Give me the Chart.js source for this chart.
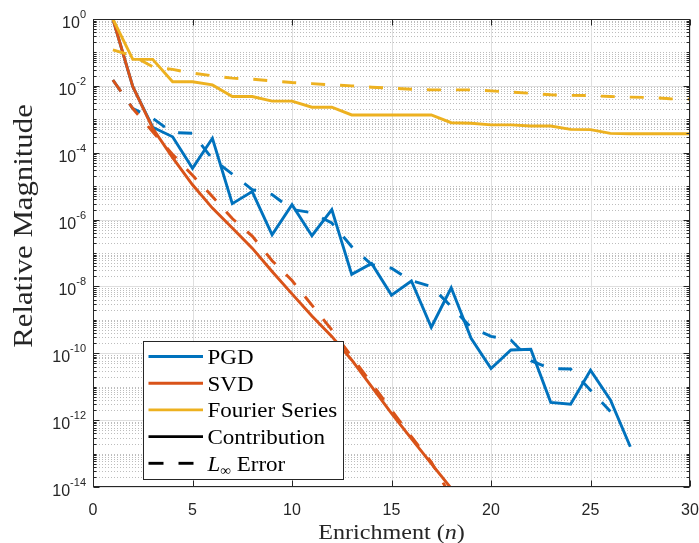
<!DOCTYPE html>
<html>
<head>
<meta charset="utf-8">
<script src="https://cdn.jsdelivr.net/npm/chart.js@4.4.0/dist/chart.umd.min.js"></script>
<style>
  html, body { margin: 0; padding: 0; background: #fff; }
  #wrap { width: 699px; height: 543px; }
</style>
</head>
<body>
<div id="wrap"><canvas id="chart" width="699" height="543"></canvas></div>
<script>
// enrichment index n
const enrichment = [1, 2, 3, 4, 5, 6, 7, 8, 9, 10, 11, 12, 13, 14, 15,
                    16, 17, 18, 19, 20, 21, 22, 23, 24, 25, 26, 27, 28, 29, 30];

// PGD: relative contribution of each mode and L-infinity error
const pgdContribution = [1, 9.5e-3, 5.8e-4, 3.0e-4, 3.4e-5, 2.7e-4, 3.0e-6, 6.9e-6, 3.5e-7, 2.8e-6,
                         3.3e-7, 2.0e-6, 2.3e-8, 4.9e-8, 5.5e-9, 1.45e-8, 6.0e-10, 9.1e-9, 2.8e-10, 3.5e-11,
                         1.26e-10, 1.32e-10, 3.4e-12, 3.0e-12, 3.1e-11, 4.0e-12, 1.6e-13];
const pgdError = [1.5e-2, 2.1e-3, 1.07e-3, 4.0e-4, 3.8e-4, 6.5e-5, 2.3e-5, 7.9e-6, 5.6e-6, 2.0e-6,
                  1.6e-6, 7.9e-7, 1.55e-7, 4.5e-8, 3.5e-8, 1.48e-8, 1.0e-8, 2.5e-9, 5.9e-10, 3.2e-10,
                  2.5e-10, 6.0e-11, 3.5e-11, 3.4e-11, 7.9e-12, 1.8e-12];

// SVD
const svdContribution = [1, 9.5e-3, 5.4e-4, 7.1e-5, 1.1e-5, 2.2e-6, 5.6e-7, 1.4e-7, 2.8e-8, 6.0e-9,
                         1.3e-9, 3.2e-10, 6.3e-11, 1.0e-11, 1.6e-12, 2.8e-13, 5.0e-14, 9.1e-15];
const svdError = [1.5e-2, 2.1e-3, 4.2e-4, 8.9e-5, 2.1e-5, 4.9e-6, 1.07e-6, 3.2e-7, 5.9e-8, 1.5e-8,
                  2.75e-9, 5.0e-10, 7.9e-11, 1.26e-11, 2.0e-12, 3.2e-13, 5.6e-14, 5.0e-15];

// Fourier series
const fourierContribution = [1, 0.062, 0.062, 0.0133, 0.0133, 0.0107, 0.0048, 0.0048, 0.0035, 0.0035,
                             0.0023, 0.0023, 0.00135, 0.00135, 0.00135, 0.00135, 0.00135, 0.00079, 0.00076, 0.00068,
                             0.00068, 0.00063, 0.00063, 0.0005, 0.00049, 0.00038, 0.00037, 0.00037, 0.00037, 0.00037];
const fourierError = [0.12, 0.079, 0.037, 0.031, 0.024, 0.02, 0.017, 0.0158, 0.0141, 0.0126,
                      0.0117, 0.0107, 0.01, 0.0091, 0.0085, 0.0079, 0.0076, 0.0076, 0.0076, 0.0071,
                      0.0065, 0.006, 0.0054, 0.0052, 0.0051, 0.0048, 0.0046, 0.0045, 0.0041, 0.004];

const xTicks = [0, 5, 10, 15, 20, 25, 30];
const yLabelExponents = [0, -2, -4, -6, -8, -10, -12, -14];

const blue = '#0072BD', orange = '#D95319', yellow = '#EDB120';
const dash = [14, 15];
const lineWidth = 2.9;
const serif = '"Liberation Serif", "Times New Roman", serif';
const sans = '"Liberation Sans", Arial, sans-serif';

const legendEntries = [
  { runs: [['PGD']], color: blue, dashed: false },
  { runs: [['SVD']], color: orange, dashed: false },
  { runs: [['Fourier Series']], color: yellow, dashed: false },
  { runs: [['Contribution']], color: '#000', dashed: false },
  { runs: [['L', true], ['\u221E', false, 14, 4], [' Error']], color: '#000', dashed: true }
];

const toPoints = vals => vals.map((v, i) => ({ x: enrichment[i], y: v }));

function series(data, color, dashed, order) {
  return {
    data: toPoints(data),
    borderColor: color,
    borderWidth: lineWidth,
    borderDash: dashed ? dash : [],
    borderCapStyle: 'butt',
    pointRadius: 0,
    tension: 0,
    clip: 0,
    order
  };
}

// draw a string made of runs [text, italic, size, dy], stretched horizontally
function drawRuns(ctx, runs, x, y, size, align, stretch) {
  const parts = runs.map(r => {
    const font = (r[1] ? 'italic ' : '') + (r[2] || size) + 'px ' + serif;
    ctx.font = font;
    return { text: r[0], font, dy: r[3] || 0, w: ctx.measureText(r[0]).width };
  });
  const total = parts.reduce((s, p) => s + p.w, 0);
  const x0 = align === 'center' ? x - total * stretch / 2 : x;
  ctx.save();
  ctx.translate(x0, y);
  ctx.scale(stretch, 1);
  ctx.textAlign = 'left';
  ctx.textBaseline = 'alphabetic';
  let cx = 0;
  parts.forEach(p => {
    ctx.font = p.font;
    ctx.fillText(p.text, cx, p.dy);
    cx += p.w;
  });
  ctx.restore();
}

const axesFrame = {
  id: 'axesFrame',
  beforeDatasetsDraw(chart) {
    const { ctx, chartArea: a, scales: { x, y } } = chart;
    ctx.save();
    ctx.lineWidth = 1;
    // minor grid (dotted)
    ctx.strokeStyle = 'rgba(38,38,38,0.3)';
    ctx.setLineDash([1, 2]);
    for (let k = -14; k < 0; k++) {
      for (let m = 1; m <= 9; m++) {
        if (m === 1 && k % 2 === 0) continue;
        const py = Math.round(y.getPixelForValue(m * Math.pow(10, k))) + 0.5;
        ctx.beginPath(); ctx.moveTo(a.left, py); ctx.lineTo(a.right, py); ctx.stroke();
      }
    }
    // major grid
    ctx.setLineDash([]);
    ctx.strokeStyle = '#dfdfdf';
    yLabelExponents.forEach(e => {
      const py = Math.round(y.getPixelForValue(Math.pow(10, e))) + 0.5;
      ctx.beginPath(); ctx.moveTo(a.left, py); ctx.lineTo(a.right, py); ctx.stroke();
    });
    xTicks.forEach(t => {
      const px = Math.round(x.getPixelForValue(t)) + 0.5;
      ctx.beginPath(); ctx.moveTo(px, a.top); ctx.lineTo(px, a.bottom); ctx.stroke();
    });
    ctx.restore();
  },
  afterDatasetsDraw(chart) {
    const { ctx, chartArea: a, scales: { x, y } } = chart;
    ctx.save();
    ctx.strokeStyle = '#262626';
    ctx.fillStyle = '#262626';
    ctx.lineWidth = 1;
    ctx.setLineDash([]);
    const L = Math.round(a.left) + 0.5, R = Math.round(a.right) - 0.5;
    const T = Math.round(a.top) + 0.5, B = Math.round(a.bottom) - 0.5;
    ctx.strokeRect(L, T, R - L, B - T);

    // x ticks, bottom and top
    xTicks.forEach(t => {
      const px = Math.round(x.getPixelForValue(t)) + 0.5;
      ctx.beginPath();
      ctx.moveTo(px, B); ctx.lineTo(px, B - 6);
      ctx.moveTo(px, T); ctx.lineTo(px, T + 6);
      ctx.stroke();
    });
    // y ticks, left and right
    for (let k = -14; k <= 0; k++) {
      for (let m = 1; m <= 9; m++) {
        const v = m * Math.pow(10, k);
        if (v > 1) break;
        const len = (m === 1 && k % 2 === 0) ? 6 : 3;
        const py = Math.round(y.getPixelForValue(v)) + 0.5;
        ctx.beginPath();
        ctx.moveTo(L, py); ctx.lineTo(L + len, py);
        ctx.moveTo(R, py); ctx.lineTo(R - len, py);
        ctx.stroke();
      }
    }

    // x tick labels
    ctx.font = '16px ' + sans;
    ctx.textAlign = 'center';
    ctx.textBaseline = 'alphabetic';
    xTicks.forEach(t => ctx.fillText(String(t), x.getPixelForValue(t), 515));

    // y tick labels as powers of ten
    yLabelExponents.forEach(e => {
      const py = y.getPixelForValue(Math.pow(10, e));
      const sup = String(e);
      ctx.font = '11px ' + sans;
      const supW = ctx.measureText(sup).width;
      ctx.font = '16px ' + sans;
      const baseW = ctx.measureText('10').width;
      const x0 = 86 - supW - baseW;
      ctx.textAlign = 'left';
      ctx.fillText('10', x0, py + 9);
      ctx.font = '11px ' + sans;
      ctx.fillText(sup, x0 + baseW, py - 1);
    });

    // axis titles
    drawRuns(ctx, [['Enrichment ('], ['n', true], [')']], (a.left + a.right) / 2, 539, 21.5, 'center', 1.12);
    ctx.save();
    ctx.translate(32, 226);
    ctx.rotate(-Math.PI / 2);
    drawRuns(ctx, [['Relative Magnitude']], 0, 0, 27, 'center', 1.14);
    ctx.restore();

    // legend box
    const box = { x: 143.5, y: 341.5, w: 200, h: 138 };
    ctx.fillStyle = '#fff';
    ctx.fillRect(box.x, box.y, box.w, box.h);
    ctx.strokeStyle = '#262626';
    ctx.strokeRect(box.x, box.y, box.w, box.h);
    legendEntries.forEach((entry, i) => {
      const cy = 356.5 + i * 26.7;
      ctx.strokeStyle = entry.color;
      ctx.lineWidth = lineWidth;
      ctx.lineCap = 'butt';
      ctx.setLineDash(entry.dashed ? [15, 15] : []);
      ctx.beginPath(); ctx.moveTo(148.5, cy); ctx.lineTo(203, cy); ctx.stroke();
      ctx.setLineDash([]);
      ctx.fillStyle = '#000';
      drawRuns(ctx, entry.runs, 207.5, cy + 7.5, 21.5, 'left', 1.07);
    });
    ctx.restore();
  }
};

new Chart(document.getElementById('chart'), {
  type: 'line',
  data: {
    datasets: [
      series(pgdContribution, blue, false, 5),
      series(pgdError, blue, true, 4),
      series(svdContribution, orange, false, 3),
      series(svdError, orange, true, 2),
      series(fourierContribution, yellow, false, 1),
      series(fourierError, yellow, true, 0)
    ]
  },
  options: {
    responsive: false,
    animation: false,
    devicePixelRatio: 1,
    layout: { padding: { top: 19, right: 9, left: 0, bottom: 0 } },
    plugins: { legend: { display: false }, tooltip: { enabled: false } },
    scales: {
      x: {
        type: 'linear', min: 0, max: 30,
        grid: { display: false }, border: { display: false }, ticks: { display: false },
        afterFit: s => { s.height = 56; }
      },
      y: {
        type: 'logarithmic', min: 1e-14, max: 1,
        grid: { display: false }, border: { display: false }, ticks: { display: false },
        afterFit: s => { s.width = 93; }
      }
    }
  },
  plugins: [axesFrame]
});
</script>
</body>
</html>
